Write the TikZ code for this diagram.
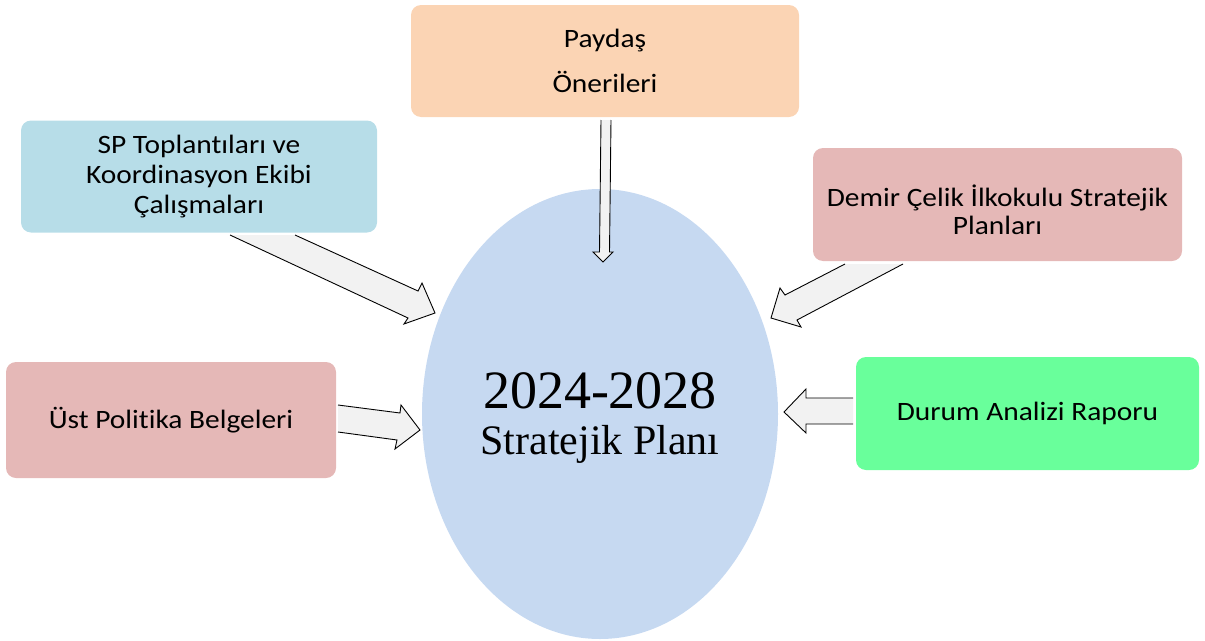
\documentclass[tikz,border=0pt]{standalone}
\usepackage{fontspec}
\setmainfont{Carlito}[Ligatures=NoCommon, FakeStretch=1.11]
\newfontfamily\serifx{Liberation Serif}
\usetikzlibrary{shapes.geometric}
\definecolor{peach}{HTML}{FBD4B4}
\definecolor{skyb}{HTML}{B7DDE8}
\definecolor{rosy}{HTML}{E5B8B7}
\definecolor{mint}{HTML}{69FF9B}
\definecolor{ellb}{HTML}{C6D9F1}
\definecolor{arrf}{HTML}{F2F2F2}
\newcommand{\lowerby}[2]{\raisebox{-#1}[\height][\depth]{#2}}
\begin{document}
\begin{tikzpicture}[x=1pt,y=-1pt,
  box/.style={rounded corners=10pt, draw=none, align=center, inner sep=0pt,
              font=\fontsize{26.5}{30}\selectfont},
  barrow/.style={fill=arrf, draw=black, line width=0.9pt, line join=miter},
]
\useasboundingbox (0,0) rectangle (1205,640);

% central ellipse
\node[ellipse, fill=ellb, minimum width=356pt, minimum height=450pt,
      inner sep=0pt, align=center, font=\serifx\fontsize{42}{46}\selectfont] (plan) at (600,414)
  {\lowerby{4pt}{\fontsize{54}{46}\selectfont 2024-2028}\\\lowerby{4pt}{Stratejik Planı}};

% block arrows (open tails)
\draw[barrow] (295,235) -- (418,291) -- (422,283) -- (435,313) -- (404,324) -- (408,318) -- (230,235);
\draw[barrow] (611,120) -- (609.5,252) -- (613,252) -- (603,262) -- (593,252) -- (599.5,252) -- (601,120);
\draw[barrow] (845,264) -- (785,295) -- (780,288) -- (771,318) -- (801,327) -- (797,320) -- (903,264);
\draw[barrow] (338,405) -- (400,413) -- (401,405) -- (420,430) -- (395,449) -- (397,440) -- (338,432);
\draw[barrow] (853,398) -- (806,398) -- (806,389) -- (784,412) -- (806,433) -- (806,424) -- (853,424);

% boxes
\node[box, fill=peach, minimum width=388pt, minimum height=112pt,
      font=\fontsize{26.5}{45}\selectfont] (paydas) at (605,61) {Paydaş\\Önerileri};
\node[box, fill=skyb, minimum width=356pt, minimum height=112pt] (sp) at (199,176.5)
  {SP Toplantıları ve\\Koordinasyon Ekibi\\Çalışmaları};
\node[box, fill=rosy, minimum width=369pt, minimum height=113pt,
      font=\fontsize{26.5}{28}\selectfont] (demir) at (997.5,204.5)
  {\lowerby{5pt}{Demir Çelik İlkokulu Stratejik}\\\lowerby{5pt}{Planları}};
\node[box, fill=rosy, minimum width=330pt, minimum height=116pt] (ust) at (171,420)
  {Üst Politika Belgeleri};
\node[box, fill=mint, minimum width=343pt, minimum height=113pt] (durum) at (1027.5,413.5)
  {Durum Analizi Raporu};
\end{tikzpicture}
\end{document}
